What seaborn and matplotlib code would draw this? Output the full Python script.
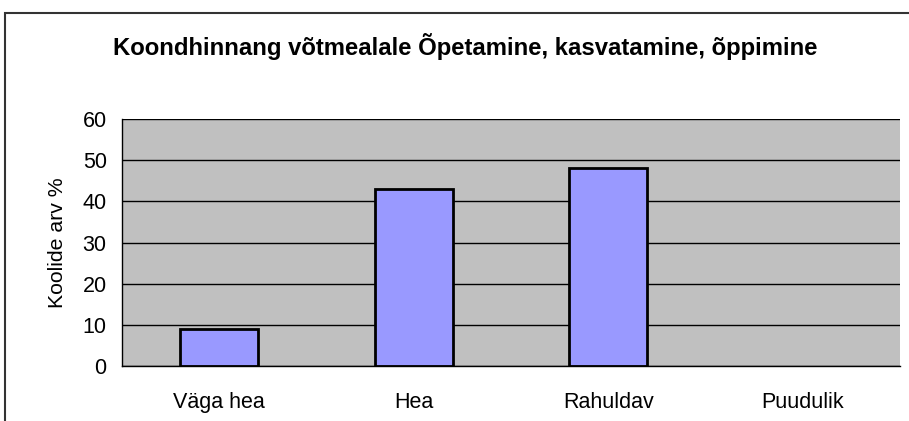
import matplotlib
matplotlib.use("Agg")
import matplotlib.pyplot as plt
import matplotlib.patches as mpatches
import seaborn as sns
import pandas as pd

# andmed
categories = ["Väga hea", "Hea", "Rahuldav", "Puudulik"]
values = [9, 43, 48, 0]
y_ticks = [0, 10, 20, 30, 40, 50, 60]

title = "Koondhinnang võtmealale Õpetamine, kasvatamine, õppimine"
ylabel = "Koolide arv %"

sns.set_style("white")
plt.rcParams["font.family"] = ["Liberation Sans", "DejaVu Sans"]
plt.rcParams["text.color"] = "black"
plt.rcParams["axes.labelcolor"] = "black"
plt.rcParams["xtick.color"] = "black"
plt.rcParams["ytick.color"] = "black"

df = pd.DataFrame({"hinnang": categories, "protsent": values})

fig = plt.figure(figsize=(9.09, 4.21), dpi=100)
ax = fig.add_axes([122 / 909, 1 - 366 / 421, 778 / 909, 247 / 421])
ax.set_facecolor("#C0C0C0")

sns.barplot(data=df, x="hinnang", y="protsent", color="#9999FF",
            width=0.4, edgecolor="black", linewidth=2, saturation=1, ax=ax)

# nullväärtusega tulpa ei joonistata
for bar in ax.patches:
    if bar.get_height() == 0:
        bar.set_visible(False)

ax.set_xlim(-0.5, len(categories) - 0.5)
ax.set_ylim(0, 60)
ax.set_yticks(y_ticks)
ax.yaxis.grid(True, color="black", linewidth=1)
ax.set_axisbelow(True)

ax.set_xticks([i - 0.5 for i in range(len(categories) + 1)], minor=True)
ax.tick_params(axis="x", which="major", length=0, pad=19, labelsize=15.5)
ax.tick_params(axis="x", which="minor", length=7, width=1, direction="out")
ax.tick_params(axis="y", length=7, width=1, direction="out", pad=4, labelsize=15.5)

for s in ["top", "right"]:
    ax.spines[s].set_visible(False)
for s in ["left", "bottom"]:
    ax.spines[s].set_color("black")
    ax.spines[s].set_linewidth(1)

ax.set_xlabel("")
ax.set_ylabel(ylabel, fontsize=15.3, labelpad=11)

fig.text(465 / 909, 1 - 47 / 421, title, ha="center", va="center",
         fontsize=17.2, fontweight="bold")

# raam ümber diagrammi
frame = mpatches.Rectangle((5 / 909, -0.2), 1.2, 1 - 13 / 421 + 0.2,
                           transform=fig.transFigure, fill=False,
                           edgecolor="#333333", linewidth=1.5, clip_on=False)
fig.patches.append(frame)

fig.savefig("out.png", dpi=100, facecolor="white")
